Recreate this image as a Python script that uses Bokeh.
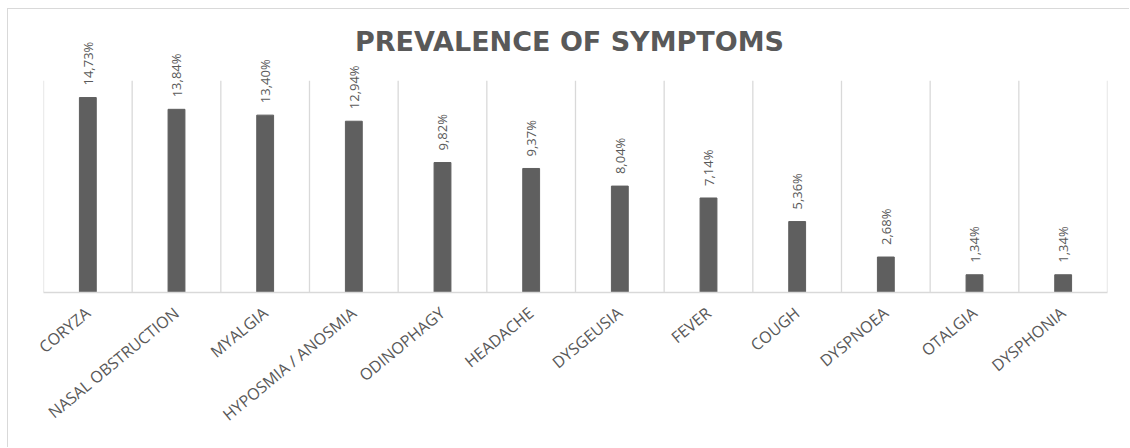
from bokeh.plotting import figure
from bokeh.models import Range1d, ColumnDataSource, FixedTicker, Label
from bokeh.embed import file_html
from bokeh.resources import INLINE
from bokeh.core.properties import value

symptoms = ["CORYZA", "NASAL OBSTRUCTION", "MYALGIA", "HYPOSMIA / ANOSMIA",
            "ODINOPHAGY", "HEADACHE", "DYSGEUSIA", "FEVER", "COUGH",
            "DYSPNOEA", "OTALGIA", "DYSPHONIA"]
prevalence = [14.73, 13.84, 13.40, 12.94, 9.82, 9.37, 8.04, 7.14, 5.36, 2.68, 1.34, 1.34]
value_labels = [("%.2f%%" % v).replace(".", ",") for v in prevalence]
title_text = "PREVALENCE OF SYMPTOMS"
y_axis_max = 16

TEXT = "#595959"
GRID = "#d9d9d9"
BAR = "#5f5f5f"

n = len(symptoms)
centers = [i + 0.5 for i in range(n)]
bounds = list(range(n + 1))

src = ColumnDataSource(dict(x=centers, top=prevalence, lab=value_labels))

p = figure(x_range=Range1d(0, n), y_range=Range1d(0, 20.55),
           width=1122, height=439, output_backend="svg", toolbar_location=None,
           min_border_left=35, min_border_right=23, min_border_top=11, min_border_bottom=156,
           margin=(8, 0, 0, 7),
           styles={"border-top": "1px solid #d9d9d9", "border-left": "1px solid #d9d9d9"})

# category separator grid lines
p.segment(x0=bounds, y0=[0] * len(bounds), x1=bounds, y1=[y_axis_max] * len(bounds),
          line_color=GRID, line_width=1.3)

p.vbar(x="x", top="top", width=0.19, source=src, fill_color=BAR, line_color=BAR)
p.text(x="x", y="top", text="lab", source=src, angle=1.5708, y_offset=-12,
       text_align="left", text_baseline="middle", text_font=value("Open Sans"),
       text_font_size="13px", text_color=TEXT)

title = Label(x=n / 2, y=19.0, text=title_text, x_offset=-6,
              text_align="center", text_baseline="middle",
              text_font="DejaVu Sans", text_font_style="bold",
              text_font_size="27px", text_color=TEXT)
p.add_layout(title)

p.yaxis.visible = False
p.xgrid.visible = False
p.ygrid.visible = False
p.outline_line_color = None
p.background_fill_color = "white"
p.border_fill_color = "white"

ax = p.xaxis[0]
ax.ticker = FixedTicker(ticks=centers)
ax.major_label_overrides = {c: s for c, s in zip(centers, symptoms)}
ax.axis_line_color = GRID
ax.axis_line_width = 1.5
ax.major_tick_line_color = None
ax.minor_tick_line_color = None
ax.major_label_orientation = 0.69
ax.major_label_standoff = 12
ax.major_label_text_font = "Open Sans"
ax.major_label_text_font_size = "16px"
ax.major_label_text_color = TEXT

open("out.html", "w").write(file_html(p, INLINE))
